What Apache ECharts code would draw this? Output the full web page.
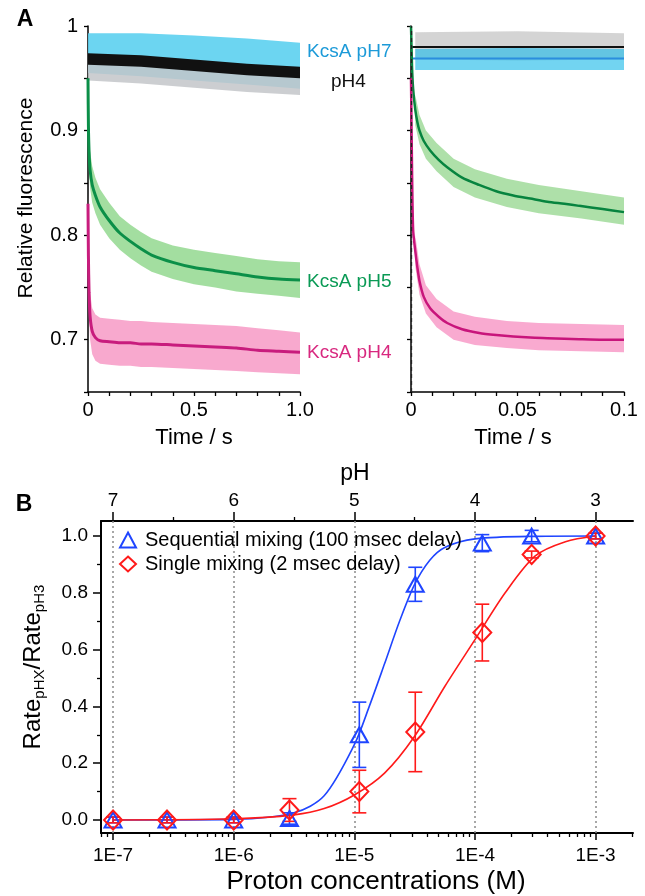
<!DOCTYPE html>
<html><head><meta charset="utf-8">
<script src="https://cdn.jsdelivr.net/npm/echarts@6/dist/echarts.min.js"></script>
<style>html,body{margin:0;padding:0;background:#fff}#c{width:645px;height:896px}</style>
</head><body><div id="c"></div>
<script>
// ================= DATA =================
// ---- Panel A, left plot (time 0–1 s) ----
const tLeft    = [0, 0.002, 0.005, 0.01, 0.02, 0.035, 0.057, 0.1, 0.15, 0.2, 0.25, 0.3, 0.4, 0.5, 0.6, 0.7, 0.8, 0.9, 1.0];
const pH5Mean  = [0.95, 0.905, 0.88, 0.862, 0.848, 0.838, 0.827, 0.814, 0.802, 0.794, 0.787, 0.781, 0.774, 0.769, 0.766, 0.763, 0.760, 0.758, 0.757];
const pH5Upper = [0.955, 0.922, 0.898, 0.88, 0.866, 0.855, 0.844, 0.831, 0.818, 0.81, 0.803, 0.797, 0.79, 0.786, 0.783, 0.78, 0.777, 0.775, 0.774];
const pH5Lower = [0.93, 0.888, 0.862, 0.845, 0.831, 0.821, 0.81, 0.797, 0.786, 0.778, 0.771, 0.765, 0.758, 0.753, 0.75, 0.746, 0.744, 0.742, 0.74];
const pH4Mean  = [0.83, 0.78, 0.745, 0.722, 0.708, 0.702, 0.699, 0.698, 0.697, 0.697, 0.696, 0.696, 0.695, 0.694, 0.693, 0.692, 0.69, 0.689, 0.688];
const pH4Upper = [0.84, 0.8, 0.768, 0.745, 0.73, 0.724, 0.721, 0.72, 0.719, 0.718, 0.718, 0.717, 0.716, 0.715, 0.714, 0.713, 0.711, 0.709, 0.707];
const pH4Lower = [0.82, 0.76, 0.722, 0.7, 0.686, 0.68, 0.677, 0.676, 0.675, 0.675, 0.674, 0.674, 0.673, 0.672, 0.671, 0.67, 0.669, 0.668, 0.667];
const tFlat     = [0, 0.25, 0.5, 0.75, 1.0];
const pH7Upper  = [0.993, 0.993, 0.991, 0.988, 0.984];
const pH7Lower  = [0.955, 0.952, 0.948, 0.944, 0.94];
const ctlUpper  = [0.972, 0.970, 0.966, 0.962, 0.958];
const ctlLower  = [0.948, 0.945, 0.941, 0.937, 0.934];
const ctlMeanHi = [0.974, 0.972, 0.968, 0.964, 0.961];
const ctlMeanLo = [0.963, 0.961, 0.957, 0.953, 0.950];

// ---- Panel A, right plot (time 0–0.1 s) ----
const tRightFit = [0, 0.0005, 0.001, 0.002, 0.003, 0.004, 0.006, 0.009, 0.013, 0.017, 0.024, 0.032, 0.04, 0.048, 0.056, 0.064, 0.072, 0.079, 0.09, 0.1];
const pH5Fit    = [1.0, 0.96, 0.94, 0.92, 0.908, 0.90, 0.89, 0.881, 0.872, 0.865, 0.855, 0.848, 0.842, 0.838, 0.835, 0.832, 0.830, 0.828, 0.825, 0.822];
const pH4Fit    = [0.95, 0.86, 0.805, 0.785, 0.769, 0.756, 0.741, 0.730, 0.722, 0.716, 0.710, 0.7065, 0.7045, 0.703, 0.702, 0.7015, 0.701, 0.7005, 0.700, 0.700];
const tRightFlat = [0, 0.1];
const ctlFit     = [0.980, 0.980];
const pH7Fit     = [0.969, 0.969];
const tRightDots = [0.002, 0.004, 0.007, 0.012, 0.02, 0.03, 0.045, 0.06, 0.08, 0.1];
const pH5DotsHi  = [0.934, 0.915, 0.90, 0.888, 0.873, 0.863, 0.854, 0.848, 0.842, 0.836];
const pH5DotsLo  = [0.905, 0.887, 0.873, 0.861, 0.846, 0.836, 0.827, 0.821, 0.816, 0.810];
const pH4DotsHi  = [0.80, 0.772, 0.752, 0.739, 0.727, 0.722, 0.718, 0.716, 0.715, 0.714];
const pH4DotsLo  = [0.77, 0.743, 0.725, 0.712, 0.700, 0.695, 0.692, 0.690, 0.689, 0.688];
const tFlatDots  = [0.002, 0.05, 0.1];
const ctlDotsHi  = [0.994, 0.995, 0.993];
const ctlDotsLo  = [0.968, 0.967, 0.968];
const pH7DotsHi  = [0.978, 0.979, 0.978];
const pH7DotsLo  = [0.958, 0.958, 0.958];
const mixDelay   = 0.002;

// ---- Panel A ticks ----
const aYTicks   = [0.65, 0.7, 0.75, 0.8, 0.85, 0.9, 0.95, 1.0];
const aYLabels  = [0.7, 0.8, 0.9, 1];
const aLXTicks  = [0, 0.1, 0.2, 0.3, 0.4, 0.5, 0.6, 0.7, 0.8, 0.9, 1.0];
const aLXLabels = [0, 0.5, 1.0];
const aLXText   = ['0', '0.5', '1.0'];
const aRXTicks  = [0, 0.01, 0.02, 0.03, 0.04, 0.05, 0.06, 0.07, 0.08, 0.09, 0.1];
const aRXLabels = [0, 0.05, 0.1];
const aRXText   = ['0', '0.05', '0.1'];

// ---- Panel B ----
const seqConc  = [1e-7, 2.8e-7, 1e-6, 2.9e-6, 1.1e-5, 3.2e-5, 1.15e-4, 2.95e-4, 1e-3];
const seqRate  = [0, 0, 0, 0.005, 0.30, 0.83, 0.975, 1.0, 1.0];
const seqErr   = [0.01, 0.01, 0.01, 0.02, 0.115, 0.06, 0.03, 0.02, 0.01];
const sglConc  = [1e-7, 2.8e-7, 1e-6, 2.9e-6, 1.1e-5, 3.2e-5, 1.15e-4, 2.95e-4, 1e-3];
const sglRate  = [0, 0, 0, 0.035, 0.10, 0.31, 0.66, 0.935, 1.0];
const sglErr   = [0.01, 0.01, 0.01, 0.04, 0.075, 0.14, 0.10, 0.012, 0.01];
const seqFitConc = [1e-7, 1e-6, 3.16e-6, 5.62e-6, 1e-5, 1.33e-5, 1.78e-5, 2.37e-5, 3.16e-5, 4.22e-5, 5.62e-5, 1e-4, 3.16e-4, 1e-3];
const seqFitRate = [0, 0.002, 0.025, 0.085, 0.265, 0.40, 0.55, 0.70, 0.83, 0.915, 0.96, 0.99, 0.999, 1.0];
const sglFitConc = [1e-7, 1e-6, 3.16e-6, 5.62e-6, 1e-5, 1.78e-5, 3.16e-5, 5.62e-5, 1e-4, 1.78e-4, 3.16e-4, 5.62e-4, 1e-3];
const sglFitRate = [0, 0.004, 0.018, 0.04, 0.088, 0.165, 0.295, 0.47, 0.635, 0.80, 0.93, 0.98, 1.0];
const bDecades   = [1e-7, 1e-6, 1e-5, 1e-4, 1e-3];
const bDecadeTxt = ['1E-7', '1E-6', '1E-5', '1E-4', '1E-3'];
const bMinorMult = [2, 3, 4, 5, 6, 7, 8, 9];
const pHMajor    = [7, 6, 5, 4, 3];
const pHMinor    = [6.5, 5.5, 4.5, 3.5];
const bYTicks    = [0, 0.2, 0.4, 0.6, 0.8, 1.0];
const bYMinor    = [0.1, 0.3, 0.5, 0.7, 0.9];
const seqName = 'Sequential mixing (100 msec delay)';
const sglName = 'Single mixing (2 msec delay)';

// ================= CHART =================
const FONT = '"Liberation Sans", Arial, Helvetica, sans-serif';
const BLUE = '#1f45ff', RED = '#ff1a1a';
const lg = Math.log10;

const bXMin = -7.1, bXMax = -2.69;
const bMinorPos = [];
[-8, -7, -6, -5, -4, -3].forEach(d => bMinorMult.forEach(m => {
  const p = lg(m * Math.pow(10, d));
  if (p > bXMin && p < bXMax) bMinorPos.push(p);
}));

function band(xi, yi, t, hi, lo, color, opacity, z) {
  return {
    type: 'custom', xAxisIndex: xi, yAxisIndex: yi, z: z, silent: true, clip: true,
    data: [[t[0], lo[0]]], encode: {x: 0, y: 1},
    renderItem: function (params, api) {
      const pts = [];
      for (let i = 0; i < t.length; i++) pts.push(api.coord([t[i], hi[i]]));
      for (let i = t.length - 1; i >= 0; i--) pts.push(api.coord([t[i], lo[i]]));
      return {type: 'polygon', shape: {points: pts}, style: {fill: color, opacity: opacity}};
    }
  };
}
function line(xi, yi, t, v, color, width, z, extra) {
  return Object.assign({
    type: 'line', xAxisIndex: xi, yAxisIndex: yi, z: z, silent: true,
    data: t.map((x, i) => [x, v[i]]), showSymbol: false, symbol: 'none',
    smooth: 0.25, clip: true,
    lineStyle: {color: color, width: width}
  }, extra || {});
}
function errBars(conc, vals, errs, color) {
  return {
    type: 'custom', xAxisIndex: 2, yAxisIndex: 2, z: 4, silent: true,
    data: conc.map((c, i) => [lg(c), vals[i], errs[i]]), encode: {x: 0, y: 1},
    renderItem: function (params, api) {
      const x = api.value(0), y = api.value(1), e = api.value(2);
      const hi = api.coord([x, y + e]), lo = api.coord([x, y - e]);
      const w = 7, st = {stroke: color, lineWidth: 1.6};
      return {type: 'group', children: [
        {type: 'line', shape: {x1: hi[0], y1: hi[1], x2: lo[0], y2: lo[1]}, style: st},
        {type: 'line', shape: {x1: hi[0] - w, y1: hi[1], x2: hi[0] + w, y2: hi[1]}, style: st},
        {type: 'line', shape: {x1: lo[0] - w, y1: lo[1], x2: lo[0] + w, y2: lo[1]}, style: st}
      ]};
    }
  };
}

const axLine = {show: true, onZero: false, lineStyle: {color: '#000', width: 1.5}};
const lblA = {color: '#000', fontSize: 20, fontFamily: FONT};

const xAxis = [
  { gridIndex: 0, type: 'value', min: 0, max: 1, axisLine: axLine,
    axisTick: {show: true, customValues: aLXTicks, length: 4, lineStyle: {color: '#000', width: 1.3}},
    axisLabel: Object.assign({customValues: aLXLabels, margin: 8,
      formatter: v => aLXText[aLXLabels.findIndex(a => Math.abs(a - v) < 1e-9)]}, lblA),
    splitLine: {show: false} },
  { gridIndex: 1, type: 'value', min: 0, max: 0.1, axisLine: axLine,
    axisTick: {show: true, customValues: aRXTicks, length: 4, lineStyle: {color: '#000', width: 1.3}},
    axisLabel: Object.assign({customValues: aRXLabels, margin: 8,
      formatter: v => aRXText[aRXLabels.findIndex(a => Math.abs(a - v) < 1e-9)]}, lblA),
    splitLine: {show: false} },
  { gridIndex: 2, type: 'value', position: 'bottom', min: bXMin, max: bXMax,
    axisLine: {show: true, onZero: false, lineStyle: {color: '#000', width: 2}},
    axisTick: {show: true, customValues: bDecades.map(lg), length: 7, lineStyle: {color: '#000', width: 1.5}},
    axisLabel: {customValues: bDecades.map(lg), margin: 13, color: '#000', fontSize: 19, fontFamily: FONT,
      formatter: v => bDecadeTxt[bDecades.findIndex(c => Math.abs(lg(c) - v) < 1e-6)]},
    splitLine: {show: false} },
  { gridIndex: 2, type: 'value', position: 'bottom', min: bXMin, max: bXMax,
    axisLine: {show: false, onZero: false},
    axisTick: {show: true, customValues: bMinorPos, length: 4, lineStyle: {color: '#000', width: 1.3}},
    axisLabel: {show: false}, splitLine: {show: false} },
  { gridIndex: 2, type: 'value', position: 'top', min: bXMin, max: bXMax,
    axisLine: {show: true, onZero: false, lineStyle: {color: '#000', width: 2}},
    axisTick: {show: true, customValues: pHMajor.map(p => -p), length: 9, lineStyle: {color: '#000', width: 1.5}},
    axisLabel: {customValues: pHMajor.map(p => -p), margin: 11, color: '#000', fontSize: 19, fontFamily: FONT,
      formatter: v => String(Math.round(-v))},
    splitLine: {show: false} },
  { gridIndex: 2, type: 'value', position: 'top', min: bXMin, max: bXMax,
    axisLine: {show: false, onZero: false},
    axisTick: {show: true, customValues: pHMinor.map(p => -p), length: 4, lineStyle: {color: '#000', width: 1.3}},
    axisLabel: {show: false}, splitLine: {show: false} }
];
const yAxis = [
  { gridIndex: 0, type: 'value', position: 'left', min: 0.65, max: 1.0, axisLine: axLine,
    axisTick: {show: true, customValues: aYTicks, length: 4, lineStyle: {color: '#000', width: 1.3}},
    axisLabel: Object.assign({customValues: aYLabels, margin: 10, formatter: v => String(Math.round(v * 100) / 100)}, lblA),
    splitLine: {show: false} },
  { gridIndex: 1, type: 'value', position: 'left', min: 0.65, max: 1.0, axisLine: axLine,
    axisTick: {show: true, customValues: aYTicks, length: 4, lineStyle: {color: '#000', width: 1.3}},
    axisLabel: {show: false}, splitLine: {show: false} },
  { gridIndex: 2, type: 'value', position: 'left', min: -0.046, max: 1.053,
    axisLine: {show: true, onZero: false, lineStyle: {color: '#000', width: 2}},
    axisTick: {show: true, customValues: bYTicks, length: 8, lineStyle: {color: '#000', width: 1.5}},
    axisLabel: {customValues: bYTicks, margin: 13, color: '#000', fontSize: 19, fontFamily: FONT,
      formatter: v => v.toFixed(1)},
    splitLine: {show: false} },
  { gridIndex: 2, type: 'value', position: 'left', offset: 0, min: -0.046, max: 1.053,
    axisLine: {show: false, onZero: false},
    axisTick: {show: true, customValues: bYMinor, length: 4, lineStyle: {color: '#000', width: 1.3}},
    axisLabel: {show: false}, splitLine: {show: false} }
];

const series = [
  // Panel A left
  band(0, 0, tFlat, pH7Upper, pH7Lower, '#5cd0f0', 0.9, 1),
  band(0, 0, tFlat, ctlUpper, ctlLower, '#c3c6c9', 0.85, 2),
  band(0, 0, tFlat, ctlMeanHi, ctlMeanLo, '#111111', 1, 3),
  band(0, 0, tLeft, pH5Upper, pH5Lower, '#93d88f', 0.85, 2),
  line(0, 0, tLeft, pH5Mean, '#0b8f48', 3, 4),
  band(0, 0, tLeft, pH4Upper, pH4Lower, '#f79ac6', 0.85, 2),
  line(0, 0, tLeft, pH4Mean, '#c81c7d', 3, 4),
  // Panel A right
  band(1, 1, tFlatDots, ctlDotsHi, ctlDotsLo, '#c6c6c6', 0.75, 1),
  band(1, 1, tFlatDots, pH7DotsHi, pH7DotsLo, '#27bdea', 0.65, 2),
  line(1, 1, tRightFlat, ctlFit, '#111111', 2, 4),
  line(1, 1, tRightFlat, pH7Fit, '#2a8ede', 2, 4),
  band(1, 1, tRightDots, pH5DotsHi, pH5DotsLo, '#93d68c', 0.75, 2),
  line(1, 1, tRightFit, pH5Fit, '#07843f', 2.5, 4),
  band(1, 1, tRightDots, pH4DotsHi, pH4DotsLo, '#f78dc0', 0.75, 2),
  line(1, 1, tRightFit, pH4Fit, '#c8157b', 2.5, 4, {
    markLine: {silent: true, symbol: 'none', label: {show: false},
      lineStyle: {color: '#222', type: [4, 3], width: 1.3}, data: [{xAxis: mixDelay}]}
  }),
  // Panel B fits
  line(2, 2, seqFitConc.map(lg), seqFitRate, BLUE, 1.6, 3, {
    smooth: 0.3,
    markLine: {silent: true, symbol: 'none', label: {show: false}, z: 1,
      lineStyle: {color: '#8a8a8a', type: [2, 3], width: 1.5},
      data: bDecades.map(c => ({xAxis: lg(c)}))}
  }),
  line(2, 2, sglFitConc.map(lg), sglFitRate, RED, 1.6, 3, {smooth: 0.3}),
  errBars(seqConc, seqRate, seqErr, BLUE),
  errBars(sglConc, sglRate, sglErr, RED),
  { name: seqName, type: 'scatter', xAxisIndex: 2, yAxisIndex: 2, z: 5, silent: true,
    data: seqConc.map((c, i) => [lg(c), seqRate[i]]),
    symbol: 'triangle', symbolSize: [17, 15],
    itemStyle: {color: 'rgba(255,255,255,0)', borderColor: BLUE, borderWidth: 2, opacity: 1} },
  { name: sglName, type: 'scatter', xAxisIndex: 2, yAxisIndex: 2, z: 6, silent: true,
    data: sglConc.map((c, i) => [lg(c), sglRate[i]]),
    symbol: 'diamond', symbolSize: [18, 19],
    itemStyle: {color: 'rgba(255,255,255,0)', borderColor: RED, borderWidth: 2, opacity: 1} }
];

function txt(x, y, text, size, color, extra) {
  return {type: 'text', x: x, y: y, silent: true, z: 100,
    style: Object.assign({text: text, fill: color || '#000', fontSize: size, fontFamily: FONT,
      align: 'center', verticalAlign: 'middle'}, extra || {})};
}
const graphics = [
  txt(25, 20, 'A', 23, '#000', {fontWeight: 'bold'}),
  txt(24, 505, 'B', 23, '#000', {fontWeight: 'bold'}),
  txt(307, 52, 'KcsA pH7', 19, '#1c9ad8', {align: 'left'}),
  txt(331, 82, 'pH4', 19, '#111', {align: 'left'}),
  txt(307, 282, 'KcsA pH5', 19, '#0a9a55', {align: 'left'}),
  txt(307, 353, 'KcsA pH4', 19, '#d8287f', {align: 'left'}),
  Object.assign(txt(26, 198, 'Relative fluorescence', 21), {rotation: Math.PI / 2}),
  txt(194, 438, 'Time / s', 22),
  txt(513, 438, 'Time / s', 22),
  txt(355, 474, 'pH', 23),
  txt(376, 882, 'Proton concentrations (M)', 26),
  Object.assign(txt(34, 667, '{a|Rate}{s|pHX}{a|/Rate}{s|pH3}', 24, '#000', {
    rich: {
      a: {fontSize: 24, fontFamily: FONT, fill: '#000', lineHeight: 26, verticalAlign: 'top'},
      s: {fontSize: 15, fontFamily: FONT, fill: '#000', lineHeight: 16, verticalAlign: 'bottom', padding: [14, 0, 0, 0]}
    }
  }), {rotation: Math.PI / 2})
];

const chart = echarts.init(document.getElementById('c'), null, {renderer: 'canvas'});
chart.setOption({
  animation: false,
  backgroundColor: '#fff',
  textStyle: {fontFamily: FONT},
  grid: [
    {left: 88, top: 26, width: 212, height: 366},
    {left: 411, top: 26, width: 213, height: 366},
    {left: 101, top: 521, width: 532, height: 312}
  ],
  legend: {
    show: true, orient: 'vertical', left: 114, top: 525, itemGap: 4, itemWidth: 16, itemHeight: 15,
    selectedMode: false, data: [seqName, sglName],
    textStyle: {color: '#000', fontSize: 20, fontFamily: FONT, lineHeight: 20, padding: [0, 0, 0, 4]}
  },
  xAxis: xAxis,
  yAxis: yAxis,
  series: series,
  graphic: graphics
});
</script></body></html>
